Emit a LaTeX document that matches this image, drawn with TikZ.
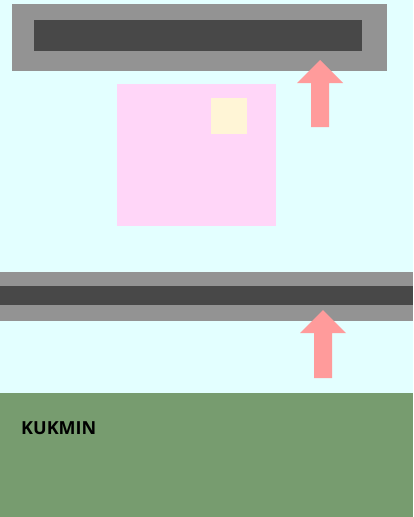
\documentclass[tikz,border=0pt]{standalone}
\usepackage{fontspec}
\setsansfont{Open Sans}
\usetikzlibrary{calc}
\definecolor{sky}{RGB}{227,255,255}
\definecolor{railout}{RGB}{147,147,147}
\definecolor{railin}{RGB}{72,72,72}
\definecolor{blockpink}{RGB}{255,214,248}
\definecolor{cream}{RGB}{255,245,214}
\definecolor{grass}{RGB}{119,156,111}
\definecolor{uparrow}{RGB}{255,155,155}
\tikzset{slab/.style={fill=railout,draw=none},
         slot/.style={fill=railin,draw=none},
         upmark/.style={fill=uparrow,draw=none},
         label/.style={font=\sffamily\bfseries\fontsize{18}{20}\selectfont,anchor=base west,inner sep=0pt}}
% block arrow pointing up, tip at #1
\newcommand{\uparr}[2]{%
  \fill[upmark] ($#1$) -- ++(23,23) -- ++(-14,0) -- ++(0,#2) -- ++(-18,0)
    -- ++(0,-#2) -- ++(-14,0) -- cycle;}

\begin{document}
\begin{tikzpicture}[x=1pt,y=-1pt]
  \fill[sky] (0,0) rectangle (413,517);
  \useasboundingbox (0,0) rectangle (413,517);
  % upper rail
  \fill[slab] (12,4) rectangle (387,71);
  \fill[slot] (34,20) rectangle (362,51);
  \uparr{(320,60)}{44}
  % block
  \fill[blockpink] (117,84) rectangle (276,226);
  \fill[cream] (211,98) rectangle (247,134);
  % lower rail
  \fill[slab] (0,272) rectangle (413,321);
  \fill[slot] (0,286) rectangle (413,305);
  \uparr{(323,310)}{45}
  % ground
  \fill[grass] (0,393) rectangle (413,517);
  \node[label] (kukmin) at (21,434) {KUKMIN};
\end{tikzpicture}
\end{document}
